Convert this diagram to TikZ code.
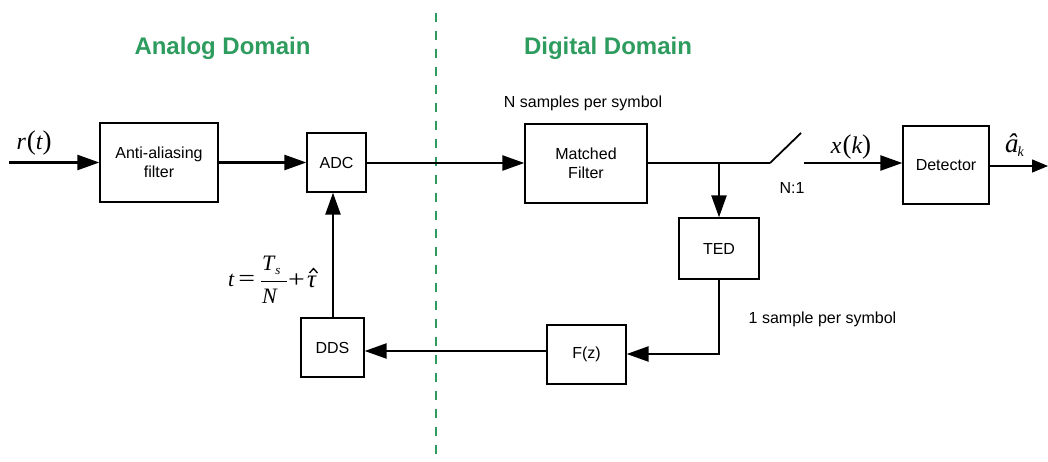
\documentclass[tikz,border=0pt]{standalone}
\usepackage{fontspec}
\setmainfont{Liberation Sans}
\newfontfamily\tms{Liberation Serif}
\usetikzlibrary{arrows.meta}
\definecolor{domgreen}{RGB}{46,155,95}
\tikzset{
  blk/.style={draw=black, line width=1.3pt, rectangle, inner sep=0pt, align=center,
              font=\fontsize{16}{19}\selectfont},
  sig/.style={line width=2.4pt, -{Triangle[length=22pt,width=15pt]}},
  wire/.style={line width=2.4pt},
  thinsig/.style={line width=1.4pt, -{Triangle[length=16pt,width=13pt]}},
  lbl/.style={font=\fontsize{16}{19}\selectfont, inner sep=0pt},
  mlbl/.style={font=\tms\fontsize{24}{28}\selectfont, inner sep=0pt},
  flbl/.style={font=\tms\fontsize{22}{25}\selectfont\itshape, inner sep=0pt},
  title/.style={font=\fontsize{24}{28}\selectfont\bfseries, text=domgreen, inner sep=0pt}
}
\newcommand{\bigpar}[1]{{\upshape\fontsize{27}{30}\selectfont #1}}
\newcommand{\wideop}[1]{{\upshape\scalebox{1.35}[1.1]{#1}}}
\begin{document}
\begin{tikzpicture}[x=1pt, y=-1pt]
\useasboundingbox (0,0) rectangle (1048,462);

% domain boundary
\coordinate (dtop) at (436,13);
\coordinate (dbot) at (436,462);
\draw[domgreen, line width=1.5pt, dash pattern=on 9pt off 9pt] (dtop) -- (dbot);
\node[title] (tana) at (222.5,48) {Analog Domain};
\node[title] (tdig) at (608,48) {Digital Domain};

% blocks
\node[blk, minimum width=118pt, minimum height=79pt] (aa)  at (159,162.5) {Anti-aliasing\\filter};
\node[blk, minimum width=59pt,  minimum height=59pt] (adc) at (336.5,162.5) {ADC};
\node[blk, minimum width=122pt, minimum height=79pt] (mf)  at (586,163.5) {Matched\\Filter};
\node[blk, minimum width=86pt,  minimum height=78pt] (det) at (946,165) {Detector};
\node[blk, minimum width=80pt,  minimum height=61pt] (ted) at (719,248.5) {TED};
\node[blk, minimum width=79pt,  minimum height=59pt] (fz)  at (586.5,354.5) {F(z)};
\node[blk, minimum width=63pt,  minimum height=59pt] (dds) at (332.5,347.5) {DDS};

% junctions and free ends
\coordinate (in)  at (9,162.5);
\coordinate (br)  at (719,163);
\coordinate (sw1) at (770,163);
\coordinate (sw2) at (801,133);
\coordinate (sw3) at (804,163);
\coordinate (out) at (1048,166);
\coordinate (tc)  at (719,354);
\coordinate (fb)  at (600,351);

% forward path
\draw[sig] (in) -- (aa.west);
\draw[sig] (aa.east) -- (adc.west);
\draw[sig] (adc.east |- 0,163) -- (mf.west |- 0,163);
\draw[wire] (mf.east |- br) -- (br) -- (sw1);
\draw[wire, line width=1.8pt] (sw1) -- (sw2);
\draw[sig] (sw3) -- (sw3 -| det.west);
\draw[thinsig] (det.east |- out) -- (out);

% timing loop
\draw[sig] (br) -- (ted.north);
\draw[sig] (ted.south) -- (tc) -- (tc -| fz.east);
\draw[sig] (fb -| fz.west) -- (fb -| dds.east);
\draw[sig] (333,0 |- dds.north) -- (333,0 |- adc.south);

% signal labels
\node[mlbl] (lr) at (34,143) {\itshape r\kern1pt\bigpar(t\bigpar)};
\node[mlbl] (lx) at (851,147) {\itshape x\kern1pt\bigpar(k\bigpar)};
\node[mlbl, anchor=base west, font=\tms\fontsize{27}{30}\selectfont] (la) at (1005,153)
  {\itshape â\kern-1pt\raisebox{-4pt}{\fontsize{14}{16}\selectfont k}};

% sampling instant: t = T_s / N + tau-hat
\node[flbl, anchor=base west] (lt)  at (228,286) {t\kern4pt\wideop{=}};
\node[flbl, anchor=base west] (lts) at (262,270) {T\kern1pt\raisebox{-4pt}{\fontsize{13}{15}\selectfont s}};
\coordinate (barl) at (261,281);
\coordinate (barr) at (287,281);
\draw[line width=1pt] (barl) -- (barr);
\node[flbl, anchor=base west] (ltn) at (262,303) {N};
\node[flbl, anchor=base west] (ltp) at (288,287) {\wideop{+}};
\node[flbl, anchor=base west, font=\tms\fontsize{25}{28}\selectfont\itshape] (ltau) at (307,287) {τ};
% circumflex over tau
\coordinate (hatl) at (309.5,273);
\coordinate (hatt) at (313.5,268.5);
\coordinate (hatr) at (317.5,273);
\draw[line width=1.3pt, line join=miter] (hatl) -- (hatt) -- (hatr);

% rate labels
\node[lbl] (ln1) at (792,188) {N:1};
\node[lbl] (lns) at (583,103) {N samples per symbol};
\node[lbl] (l1s) at (822.5,319) {1 sample per symbol};
\end{tikzpicture}
\end{document}
